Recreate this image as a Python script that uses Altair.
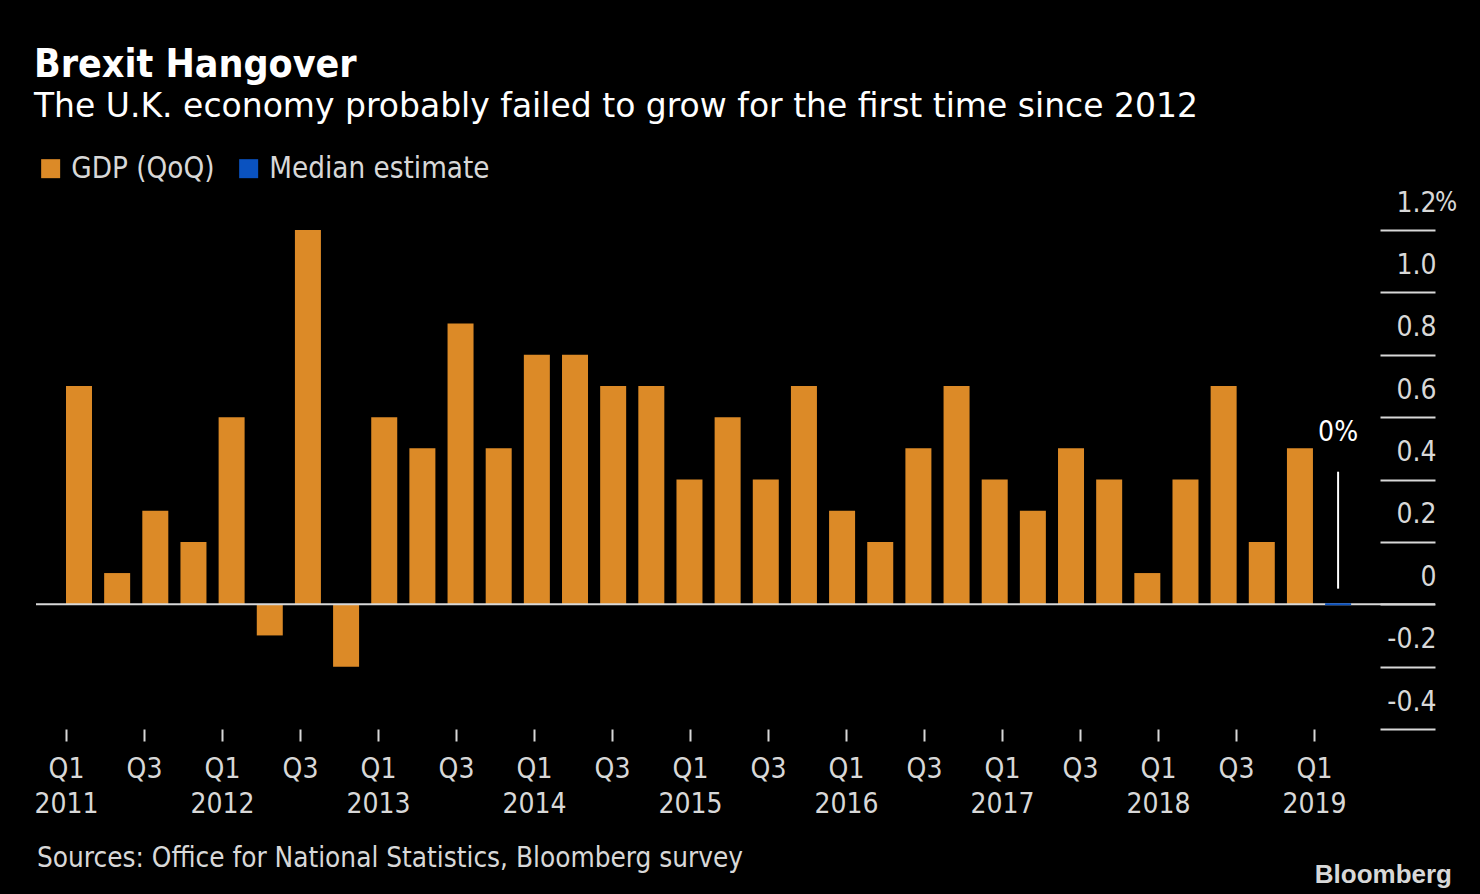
import altair as alt
import altair.utils.html as alt_html
import pandas as pd

# ---------------- data ----------------
quarters = [
    "Q1 2011", "Q2 2011", "Q3 2011", "Q4 2011",
    "Q1 2012", "Q2 2012", "Q3 2012", "Q4 2012",
    "Q1 2013", "Q2 2013", "Q3 2013", "Q4 2013",
    "Q1 2014", "Q2 2014", "Q3 2014", "Q4 2014",
    "Q1 2015", "Q2 2015", "Q3 2015", "Q4 2015",
    "Q1 2016", "Q2 2016", "Q3 2016", "Q4 2016",
    "Q1 2017", "Q2 2017", "Q3 2017", "Q4 2017",
    "Q1 2018", "Q2 2018", "Q3 2018", "Q4 2018",
    "Q1 2019", "Q2 2019",
]
gdp_qoq = [
    0.7, 0.1, 0.3, 0.2,
    0.6, -0.1, 1.2, -0.2,
    0.6, 0.5, 0.9, 0.5,
    0.8, 0.8, 0.7, 0.7,
    0.4, 0.6, 0.4, 0.7,
    0.3, 0.2, 0.5, 0.7,
    0.4, 0.3, 0.5, 0.4,
    0.1, 0.4, 0.7, 0.2,
    0.5, 0.0,
]
series = ["GDP (QoQ)"] * 33 + ["Median estimate"]
series_names = ["GDP (QoQ)", "Median estimate"]
series_colors = ["#dc8a27", "#0a52c0"]

tick_labels = [
    "Q1 2011", "Q3 2011", "Q1 2012", "Q3 2012", "Q1 2013", "Q3 2013",
    "Q1 2014", "Q3 2014", "Q1 2015", "Q3 2015", "Q1 2016", "Q3 2016",
    "Q1 2017", "Q3 2017", "Q1 2018", "Q3 2018", "Q1 2019",
]
y_ticks = [-0.4, -0.2, 0, 0.2, 0.4, 0.6, 0.8, 1.0, 1.2]
y_unit_at = [1.2]
y_unit = ["%"]

annot_quarter = ["Q2 2019"]
annot_label = ["0%"]
annot_text_y = [0.55]
annot_line_y = [0.05]
annot_line_y2 = [0.425]

title_text = "Brexit Hangover"
subtitle_text = "The U.K. economy probably failed to grow for the first time since 2012"
source_text = ["Sources: Office for National Statistics, Bloomberg survey"]
logo_text = ["Bloomberg"]

FONT = "DejaVu Sans Condensed, DejaVu Sans"
SUBFONT = "DejaVu Sans"
LIGHT = "#d8d8d8"
W, H = 1399, 499

# page background black (the chart's background colour around the 8px page margin)
_std_template = alt_html.TEMPLATES["standard"]


class _BlackPageTemplate:
    def render(self, **kwargs):
        html = _std_template.render(**kwargs)
        return html.replace(
            "<style>",
            "<style>\n    html, body { background: #000000; overflow: hidden; }",
            1,
        )


alt_html.TEMPLATES["standard"] = _BlackPageTemplate()

df = pd.DataFrame({"quarter": quarters, "value": gdp_qoq, "series": series})
med = df[df["series"] == "Median estimate"]
annot = pd.DataFrame({"quarter": annot_quarter, "label": annot_label,
                      "ty": annot_text_y, "ly": annot_line_y, "ly2": annot_line_y2})
unit_df = pd.DataFrame({"y": y_unit_at, "t": y_unit})

band_scale = alt.Scale(type="band", domain=quarters, range=[30, 1315.1],
                       paddingInner=0.3186, paddingOuter=0)
xband = alt.X("quarter:N", sort=quarters, scale=band_scale, axis=None)
xcenter = alt.X("quarter:N", sort=quarters, bandPosition=0.5, scale=band_scale, axis=None)

yscale = alt.Scale(domain=[-0.4, 1.2], nice=False, zero=False)
yaxis = alt.Axis(
    orient="right", values=y_ticks, offset=-55, tickSize=55, tickWidth=2,
    tickColor=LIGHT, domain=False, grid=False, labelAlign="right",
    labelPadding=1, labelOffset=-27, labelFontSize=28, labelFont=FONT,
    labelColor=LIGHT, title=None,
    labelExpr="datum.value == 0 ? '0' : "
              "(datum.value < 0 ? '-' + format(-datum.value, '.1f') : format(datum.value, '.1f'))",
)

bars = alt.Chart(df).mark_bar().encode(
    x=xband,
    y=alt.Y("value:Q", scale=yscale, axis=yaxis),
    color=alt.Color(
        "series:N",
        scale=alt.Scale(domain=series_names, range=series_colors),
        legend=alt.Legend(
            orient="none", legendX=0, legendY=-76, direction="horizontal",
            title=None, symbolType="square", symbolSize=361, symbolStrokeWidth=0,
            symbolOpacity=1, labelFontSize=29.3, labelFont=FONT, labelColor=LIGHT,
            columnPadding=19, labelOffset=6, labelLimit=500,
        ),
    ),
)

zero_rule = alt.Chart(pd.DataFrame({"z": [0]})).mark_rule(
    color=LIGHT, strokeWidth=2
).encode(y=alt.Y("z:Q", scale=yscale))

median_bar = alt.Chart(med).mark_bar(
    stroke=series_colors[1], strokeWidth=2, fill=series_colors[1]
).encode(x=xband, y=alt.Y("value:Q", scale=yscale))

annot_rule = alt.Chart(annot).mark_rule(color="#ffffff", strokeWidth=2).encode(
    x=xcenter, y=alt.Y("ly:Q", scale=yscale), y2="ly2:Q"
)
annot_text = alt.Chart(annot).mark_text(
    color="#ffffff", font=FONT, fontSize=28, align="center", baseline="middle"
).encode(x=xcenter, y=alt.Y("ty:Q", scale=yscale), text="label:N")

unit_text = alt.Chart(unit_df).mark_text(
    color=LIGHT, font=FONT, fontSize=26, align="left", baseline="middle", dy=-27
).encode(x=alt.value(W), y=alt.Y("y:Q", scale=yscale), text="t:N")

source = alt.Chart(pd.DataFrame({"t": source_text})).mark_text(
    align="left", baseline="middle", font=FONT, fontSize=27.7, color=LIGHT
).encode(x=alt.value(1), y=alt.value(629), text="t:N")

logo = alt.Chart(pd.DataFrame({"t": logo_text})).mark_text(
    align="right", baseline="middle", font="Liberation Sans", fontSize=26,
    fontWeight="bold", color=LIGHT
).encode(x=alt.value(1416), y=alt.value(645), text="t:N")

bar_group = alt.layer(bars, zero_rule, median_bar, annot_rule, annot_text,
                      unit_text, source, logo)

ticks = alt.Chart(pd.DataFrame({"tick": tick_labels})).mark_point(opacity=0).encode(
    x=alt.X(
        "tick:N", sort=tick_labels,
        scale=alt.Scale(type="point", domain=tick_labels, range=[30, 1278], padding=0),
        axis=alt.Axis(
            orient="bottom", domain=False, tickSize=12, tickWidth=2, tickColor=LIGHT,
            labelFontSize=28, labelFont=FONT, labelColor=LIGHT, labelPadding=14,
            labelLineHeight=35, labelAngle=0, labelOverlap=False, title=None,
            labelExpr="indexof(datum.label, 'Q1') == 0 ? split(datum.label, ' ') : substring(datum.label, 0, 2)",
        ),
    ),
    y=alt.value(0),
)

chart = alt.layer(bar_group, ticks).resolve_scale(x="independent").properties(
    width=W, height=H,
    title=alt.TitleParams(
        text=title_text, subtitle=subtitle_text, anchor="start",
        font=FONT, fontSize=39, fontWeight="bold", color="#ffffff",
        subtitleFont=SUBFONT, subtitleFontSize=33, subtitleColor="#ffffff",
        subtitlePadding=6, offset=30,
    ),
    autosize=alt.AutoSizeParams(type="none"),
    padding={"left": 28, "top": 222, "right": 37, "bottom": 162},
).configure(background="#000000").configure_view(stroke=None)

chart.save("out.html", embed_options={"renderer": "svg", "actions": False})
